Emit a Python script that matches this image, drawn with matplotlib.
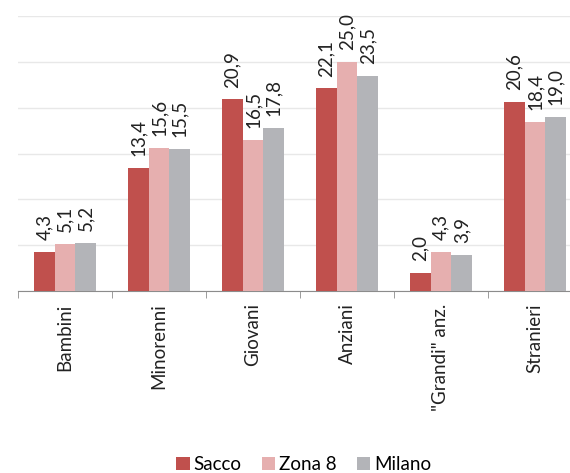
import matplotlib
matplotlib.use('Agg')
import matplotlib.pyplot as plt
import numpy as np

categories = ['Bambini', 'Minorenni', 'Giovani', 'Anziani', '"Grandi" anz.', 'Stranieri']
series_names = ['Sacco', 'Zona 8', 'Milano']
sacco = [4.3, 13.4, 20.9, 22.1, 2.0, 20.6]
zona8 = [5.1, 15.6, 16.5, 25.0, 4.3, 18.4]
milano = [5.2, 15.5, 17.8, 23.5, 3.9, 19.0]
colors = ['#C0504D', '#E6AFAF', '#B3B4B8']

plt.rcParams['font.family'] = ['Lato', 'DejaVu Sans']

fig = plt.figure(figsize=(5.70, 4.73), dpi=100)
ax = fig.add_axes([18 / 570, 1 - 291 / 473, 564 / 570, 275 / 473])

x = np.arange(len(categories))
w = 0.22
for i, (vals, name, c) in enumerate(zip([sacco, zona8, milano], series_names, colors)):
    pos = x + (i - 1) * w
    ax.bar(pos, vals, width=w, color=c, label=name, zorder=3)
    for p, v in zip(pos, vals):
        ax.text(p, v + 1.3, ('%.1f' % v).replace('.', ','), rotation=90,
                ha='center', va='bottom', fontsize=13.5, color='#222222')

ax.set_xlim(-0.5, len(categories) - 0.5)
ax.set_ylim(0, 30)
ax.set_yticks(np.arange(0, 31, 5))
ax.yaxis.grid(True, color='#E8E8E8', linewidth=1, zorder=0)
ax.tick_params(axis='y', left=False, labelleft=False)
for s in ['left', 'right', 'top']:
    ax.spines[s].set_visible(False)
ax.spines['bottom'].set_color('#8C8C8C')

ax.set_xticks(x)
ax.set_xticklabels(categories, rotation=90, fontsize=13.5, color='#222222')
ax.tick_params(axis='x', which='major', length=0, pad=9)
ax.set_xticks(np.arange(-0.5, len(categories)), minor=True)
ax.tick_params(axis='x', which='minor', length=5, color='#8C8C8C')

fig.legend(loc='lower center', bbox_to_anchor=(0.533, -0.035), ncol=3, frameon=False,
           fontsize=13.5, handlelength=0.7, handleheight=0.7, handletextpad=0.2,
           columnspacing=1.1)

fig.savefig('out.png', dpi=100)
